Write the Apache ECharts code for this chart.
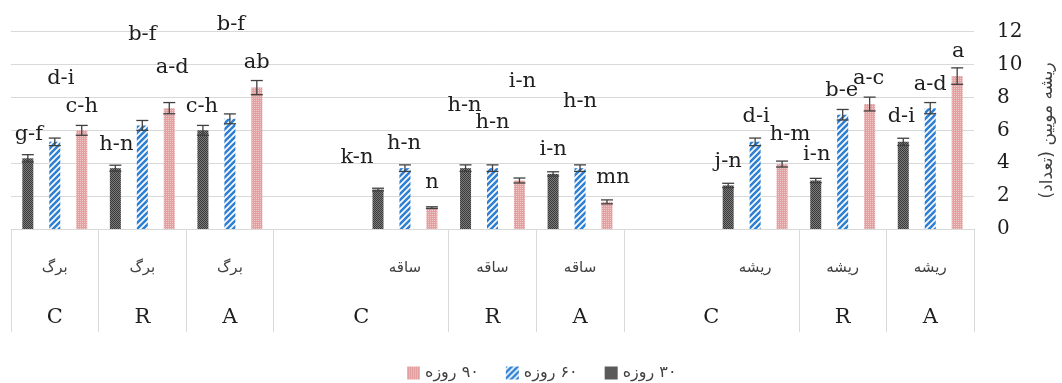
<!DOCTYPE html>
<html><head><meta charset="utf-8">
<script src="https://cdn.jsdelivr.net/npm/echarts@6/dist/echarts.min.js"></script>
<style>html,body{margin:0;padding:0;background:#fff}#c{width:1062px;height:383px}</style>
</head><body><div id="c"></div>
<script>
// ---------- data ----------
const organs = ['برگ','برگ','برگ','','ساقه','ساقه','ساقه','','ریشه','ریشه','ریشه'];
const treatLabels = ['C','R','A','C','R','A','C','R','A'];
const treatPos = [0.5,1.5,2.5,4,5.5,6.5,8,9.5,10.5];
const yTicks = [0,2,4,6,8,10,12];
const seriesNames = ['\u200F۳۰ روزه','\u200F۶۰ روزه','\u200F۹۰ روزه'];
const yName = '\u200Fریشه مویین (تعداد)\u200F';

const d30 = [4.3, 3.7, 6.0, null, 2.4, 3.7, 3.35, null, 2.65, 2.95, 5.3];
const d60 = [5.3, 6.3, 6.7, null, 3.7, 3.7, 3.7, null, 5.3, 6.95, 7.35];
const d90 = [6.0, 7.35, 8.6, null, 1.3, 2.95, 1.65, null, 3.95, 7.6, 9.3];
const e30 = [0.22, 0.18, 0.3, null, 0.08, 0.2, 0.13, null, 0.13, 0.13, 0.22];
const e60 = [0.23, 0.3, 0.3, null, 0.2, 0.2, 0.2, null, 0.23, 0.32, 0.34];
const e90 = [0.3, 0.34, 0.43, null, 0.05, 0.15, 0.12, null, 0.18, 0.42, 0.5];

const let30 = ['g-f','h-n','c-h','','k-n','h-n','i-n','','j-n','i-n','d-i'];
const let60 = ['d-i','b-f','b-f','','h-n','h-n','h-n','','d-i','b-e','a-d'];
const let90 = ['c-h','a-d','ab','','n','i-n','mn','','h-m','a-c','a'];
// heights (in axis units) at which the letter labels sit
const lab30 = [5.72, 5.11, 7.42, null, 4.32, 7.48, 4.81, null, 4.08, 4.50, 6.81];
const lab60 = [9.18, 11.8, 12.41, null, 5.17, 6.45, 7.73, null, 6.81, 8.45, 8.76];
const lab90 = [7.42, 9.79, 10.1, null, 2.80, 8.94, 3.10, null, 5.72, 9.18, 10.77];

// ---------- style ----------
const labelDx = [
  [1, 1, -1, 0, -21, -1, 0, 0, 0, 1, -2],
  [6, 0, 1, 0, -1, 0, 0, 0, 1, -1, 0],
  [0, 3, 0, 0, 0, 3, 6, 0, 8, -1, 1]
];
const BAR_W = 11, GAP = 1.45, BAR_STEP = BAR_W * (1 + GAP), CAP = 12;
const SERIF = 'DejaVu Serif', SANS = 'DejaVu Sans';

function makePattern(kind) {
  const c = document.createElement('canvas');
  const g = c.getContext('2d');
  if (kind === 'dark') {
    c.width = 2; c.height = 2;
    g.fillStyle = '#7a7a7a'; g.fillRect(0,0,2,2);
    g.fillStyle = '#3a3a3a'; g.fillRect(0,0,1,1); g.fillRect(1,1,1,1);
  } else if (kind === 'pink') {
    c.width = 2; c.height = 2;
    g.fillStyle = '#e3a0a0'; g.fillRect(0,0,2,2);
    g.fillStyle = '#f2c9c9'; g.fillRect(0,0,1,1);
  } else {
    const s = 6;
    c.width = s; c.height = s;
    g.fillStyle = '#ffffff'; g.fillRect(0,0,s,s);
    g.strokeStyle = '#2e80d4'; g.lineWidth = 2.6;
    g.beginPath();
    g.moveTo(-s/2, s/2); g.lineTo(s/2, -s/2);
    g.moveTo(0, s); g.lineTo(s, 0);
    g.moveTo(s/2, s*1.5); g.lineTo(s*1.5, s/2);
    g.stroke();
  }
  return {image: c, repeat: 'repeat'};
}
const fills = [makePattern('dark'), makePattern('blue'), makePattern('pink')];

const values = [d30, d60, d90], errs = [e30, e60, e90];
const letters = [let30, let60, let90], labH = [lab30, lab60, lab90];

const barSeries = values.map((d, k) => ({
  name: seriesNames[k], type: 'bar', xAxisIndex: 0,
  data: d, barWidth: BAR_W, barGap: (GAP*100) + '%',
  itemStyle: {color: fills[k]}, emphasis: {disabled: true}, z: 2
}));

const errSeries = values.map((d, k) => ({
  type: 'custom', xAxisIndex: 0, z: 3, silent: true,
  data: d.map((v, i) => v == null ? null : [i, v, errs[k][i]]).filter(x => x),
  renderItem: function (params, api) {
    const i = api.value(0), v = api.value(1), e = api.value(2);
    const cx = api.coord([i, v])[0] + (k - 1) * BAR_STEP;
    const yt = api.coord([i, v + e])[1], yb = api.coord([i, v - e])[1];
    const h = CAP / 2, st = {stroke: '#404040', lineWidth: 1.3};
    return {type: 'group', children: [
      {type: 'line', shape: {x1: cx, y1: yt, x2: cx, y2: yb}, style: st},
      {type: 'line', shape: {x1: cx - h, y1: yt, x2: cx + h, y2: yt}, style: st},
      {type: 'line', shape: {x1: cx - h, y1: yb, x2: cx + h, y2: yb}, style: st}
    ]};
  }
}));

const labelData = [];
const labelText = [];
for (let k = 0; k < 3; k++) {
  for (let i = 0; i < organs.length; i++) {
    if (labH[k][i] == null) continue;
    labelData.push([i, labH[k][i], k]);
    labelText.push({t: letters[k][i], dx: labelDx[k][i]});
  }
}
const labelSeries = {
  type: 'custom', xAxisIndex: 0, z: 4, silent: true, data: labelData,
  renderItem: function (params, api) {
    const i = api.value(0), v = api.value(1), k = api.value(2);
    const p = api.coord([i, v]);
    const info = labelText[params.dataIndex];
    return {type: 'text', style: {
      text: info.t, x: p[0] + (k - 1) * BAR_STEP + info.dx, y: p[1],
      align: 'center', verticalAlign: 'middle',
      font: '21px "' + SERIF + '"', fill: '#1e1e1e'
    }};
  }
};

const chart = echarts.init(document.getElementById('c'), null, {renderer: 'canvas'});
chart.setOption({
  animation: false,
  backgroundColor: '#ffffff',
  grid: {left: 11, right: 88, top: 31.7, bottom: 154, containLabel: false, outerBoundsMode: 'none'},
  legend: {
    data: [seriesNames[2], seriesNames[1], seriesNames[0]],
    left: 402, top: 360, icon: 'rect', itemWidth: 13, itemHeight: 13, itemGap: 27,
    selectedMode: false,
    textStyle: {fontFamily: SANS, fontSize: 16, color: '#404040'}
  },
  xAxis: [{
    type: 'category', data: organs, position: 'bottom',
    axisLine: {lineStyle: {color: '#d9d9d9', width: 1}},
    axisTick: {show: true, length: 103, lineStyle: {color: '#d9d9d9', width: 1},
      interval: function (index) { return !(index > 0 && organs[index - 1] === ''); }},
    axisLabel: {interval: 0, margin: 32, fontFamily: SANS, fontSize: 15, color: '#404040'},
    splitLine: {show: false}
  }, {
    type: 'value', position: 'bottom', min: 0, max: organs.length, interval: 0.5,
    axisLine: {show: false}, axisTick: {show: false}, splitLine: {show: false},
    axisLabel: {
      margin: 78, fontFamily: SERIF, fontSize: 21, color: '#1e1e1e', showMinLabel: true, showMaxLabel: true,
      formatter: function (val) {
        for (let j = 0; j < treatPos.length; j++) if (Math.abs(treatPos[j] - val) < 1e-6) return treatLabels[j];
        return '';
      }
    }
  }],
  yAxis: {
    type: 'value', position: 'right',
    min: yTicks[0], max: yTicks[yTicks.length - 1], interval: yTicks[1] - yTicks[0],
    axisLine: {show: false}, axisTick: {show: false},
    splitLine: {lineStyle: {color: '#d9d9d9', width: 1}},
    axisLabel: {margin: 23, fontFamily: SERIF, fontSize: 20, color: '#1e1e1e'},
    name: yName, nameLocation: 'middle', nameRotate: 90, nameGap: 65,
    nameTextStyle: {fontFamily: SANS, fontSize: 17, color: '#404040'}
  },
  series: [].concat(barSeries, errSeries, [labelSeries])
});
</script></body></html>
